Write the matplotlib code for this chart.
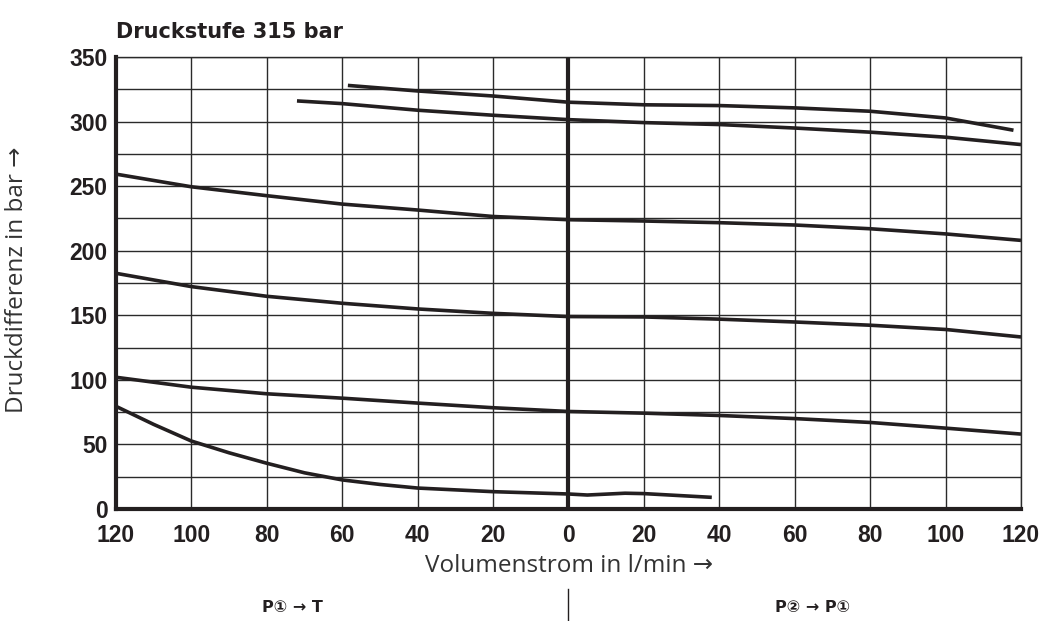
import numpy as np
import matplotlib.pyplot as plt

# flow in l/min: negative side = P1 -> T, positive side = P2 -> P1
x_ticks = [-120, -100, -80, -60, -40, -20, 0, 20, 40, 60, 80, 100, 120]
x_ticklabels = ['120', '100', '80', '60', '40', '20', '0', '20', '40', '60', '80', '100', '120']
y_ticks = [0, 50, 100, 150, 200, 250, 300, 350]

x_a = [-58.5, -40, -20, 0, 20, 40, 60, 80, 100, 118]
y_a = [328, 323.7, 319.8, 315, 313, 312.4, 310.6, 308, 302.8, 293.3]

x_b = [-72, -60, -40, -20, 0, 20, 40, 60, 80, 100, 120]
y_b = [316, 313.9, 308.8, 304.9, 301.5, 299.2, 297.7, 295, 291.8, 287.9, 282.2]

x_full = [-120, -100, -80, -60, -40, -20, 0, 20, 40, 60, 80, 100, 120]
y_c = [259.3, 249.5, 242.6, 236.1, 231.5, 226.5, 224, 223, 221.7, 219.9, 217, 213, 208]
y_d = [182.5, 172.2, 164.7, 159.3, 154.9, 151.5, 149, 148.7, 147, 144.8, 142.3, 139, 133.2]
y_e = [102, 94.3, 89.2, 85.8, 82, 78.4, 75.5, 74.2, 72.4, 70, 67, 62.6, 58]

x_f = [-120, -110, -100, -90, -80, -70, -60, -50, -40, -20, 0, 5, 15, 20, 38]
y_f = [79.5, 65.5, 52.6, 43.5, 35.4, 28, 22.5, 19, 16.2, 13.4, 11.6, 10.8, 12.2, 11.9, 9]

ink = '#231f20'
sans = ['Liberation Sans', 'DejaVu Sans']
light = ['Open Sans', 'DejaVu Sans']

fig = plt.figure(figsize=(10.41, 6.21), dpi=100)
ax = fig.add_axes([0.1114, 0.1804, 0.8694, 0.7278])

ax.set_xlim(-120, 120)
ax.set_ylim(0, 350)
ax.set_xticks(x_ticks)
ax.set_xticklabels(x_ticklabels)
ax.set_yticks(y_ticks)
ax.set_xticks(np.arange(-120, 121, 20), minor=True)
ax.set_yticks(np.arange(0, 351, 25), minor=True)
ax.grid(which='both', color='#2a2a2a', lw=1.0)
ax.set_axisbelow(True)
ax.tick_params(which='both', length=0)
ax.tick_params(axis='x', pad=11)
ax.tick_params(axis='y', pad=6)
for lab in ax.get_xticklabels() + ax.get_yticklabels():
    lab.set_family(sans)
    lab.set_fontweight('bold')
    lab.set_fontsize(16.5)
    lab.set_color(ink)

for side in ['top', 'right']:
    ax.spines[side].set_linewidth(1.0)
    ax.spines[side].set_color('#2a2a2a')
for side in ['left', 'bottom']:
    ax.spines[side].set_linewidth(3)
    ax.spines[side].set_color(ink)
ax.axvline(0, color=ink, lw=3)

for xs, ys in [(x_a, y_a), (x_b, y_b), (x_full, y_c), (x_full, y_d),
               (x_full, y_e), (x_f, y_f)]:
    ax.plot(xs, ys, color=ink, lw=2.6, solid_capstyle='butt')

fig.text(0.1114, 0.948, 'Druckstufe 315 bar', family=['DejaVu Sans'],
         fontweight='bold', fontsize=15, color=ink, va='center')
fig.text(0.016, 0.55, 'Druckdifferenz in bar \u2192', family=light,
         fontsize=17.5, color='#333333', rotation=90, va='center', ha='center')
fig.text(0.5466, 0.088, 'Volumenstrom in l/min \u2192', family=light,
         fontsize=17.5, color='#333333', va='center', ha='center')
fig.text(0.2805, 0.022, 'P\u2460 \u2192 T', family=['DejaVu Sans'],
         fontweight='bold', fontsize=11.5, color=ink, va='center', ha='center')
fig.text(0.781, 0.022, 'P\u2461 \u2192 P\u2460', family=['DejaVu Sans'],
         fontweight='bold', fontsize=11.5, color=ink, va='center', ha='center')
fig.add_artist(plt.Line2D([0.5456, 0.5456], [0.0, 0.052], color=ink, lw=1))

fig.savefig('out.png', dpi=100)
